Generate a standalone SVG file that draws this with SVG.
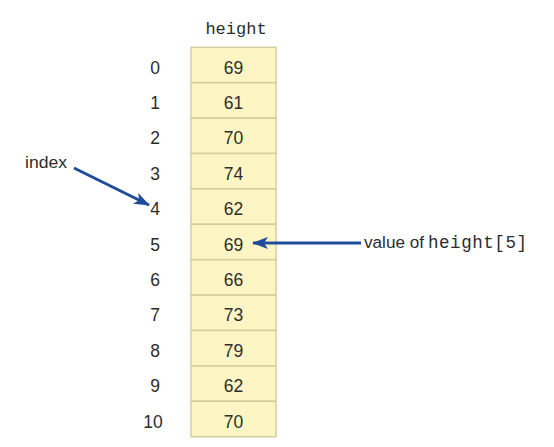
<svg xmlns="http://www.w3.org/2000/svg" width="554" height="447" viewBox="0 0 554 447">
<style>
.cell{fill:#fdf6c4;stroke:#d6cd9c;stroke-width:1.5}
.num{font-family:"Liberation Sans",Arial,sans-serif;font-size:17.5px;fill:#2d2d2d;text-anchor:middle}
.mono{font-family:"Liberation Mono","Courier New",monospace;fill:#2d2d2d}
.lbl{font-family:"Liberation Sans",Arial,sans-serif;font-size:16px;fill:#2d2d2d}
.arrow{stroke:#1f4c9a;stroke-width:3;fill:none}
</style>
<defs>
<marker id="ah" markerWidth="16" markerHeight="12" refX="15" refY="6" orient="auto" markerUnits="userSpaceOnUse">
<path d="M0,0 L16,6 L0,12 L4,6 Z" fill="#1f4c9a"/>
</marker>
</defs>
<rect width="554" height="447" fill="#fff"/>
<text class="mono" x="236" y="34" font-size="17" text-anchor="middle">height</text>
<g id="array">
<g id="cell0"><rect class="cell" x="191" y="47.3" width="85" height="35.4"/><text class="num" x="233.5" y="73.5">69</text><text class="num" x="155" y="73.5">0</text></g>
<g id="cell1"><rect class="cell" x="191" y="82.7" width="85" height="35.4"/><text class="num" x="233.5" y="108.9">61</text><text class="num" x="155" y="108.9">1</text></g>
<g id="cell2"><rect class="cell" x="191" y="118.1" width="85" height="35.4"/><text class="num" x="233.5" y="144.3">70</text><text class="num" x="155" y="144.3">2</text></g>
<g id="cell3"><rect class="cell" x="191" y="153.5" width="85" height="35.4"/><text class="num" x="233.5" y="179.7">74</text><text class="num" x="155" y="179.7">3</text></g>
<g id="cell4"><rect class="cell" x="191" y="188.9" width="85" height="35.4"/><text class="num" x="233.5" y="215.1">62</text><text class="num" x="155" y="215.1">4</text></g>
<g id="cell5"><rect class="cell" x="191" y="224.3" width="85" height="35.4"/><text class="num" x="233.5" y="250.5">69</text><text class="num" x="155" y="250.5">5</text></g>
<g id="cell6"><rect class="cell" x="191" y="259.7" width="85" height="35.4"/><text class="num" x="233.5" y="285.9">66</text><text class="num" x="155" y="285.9">6</text></g>
<g id="cell7"><rect class="cell" x="191" y="295.1" width="85" height="35.4"/><text class="num" x="233.5" y="321.3">73</text><text class="num" x="155" y="321.3">7</text></g>
<g id="cell8"><rect class="cell" x="191" y="330.5" width="85" height="35.4"/><text class="num" x="233.5" y="356.7">79</text><text class="num" x="155" y="356.7">8</text></g>
<g id="cell9"><rect class="cell" x="191" y="365.9" width="85" height="35.4"/><text class="num" x="233.5" y="392.1">62</text><text class="num" x="155" y="392.1">9</text></g>
<g id="cell10"><rect class="cell" x="191" y="401.3" width="85" height="35.4"/><text class="num" x="233.5" y="427.5">70</text><text class="num" x="153" y="427.5">10</text></g>
</g>
<g id="index-label"><text class="lbl" x="25" y="168" textLength="42" lengthAdjust="spacingAndGlyphs">index</text></g>
<g id="value-label"><text class="lbl" x="364" y="248" textLength="60" lengthAdjust="spacingAndGlyphs">value of</text><text class="mono" x="428" y="248" font-size="17.5" textLength="99" lengthAdjust="spacing">height[5]</text></g>
<g id="connectors">
<line class="arrow" x1="74" y1="168" x2="149" y2="205" marker-end="url(#ah)"/>
<line class="arrow" x1="361" y1="243" x2="253" y2="243" marker-end="url(#ah)"/>
</g>
</svg>
